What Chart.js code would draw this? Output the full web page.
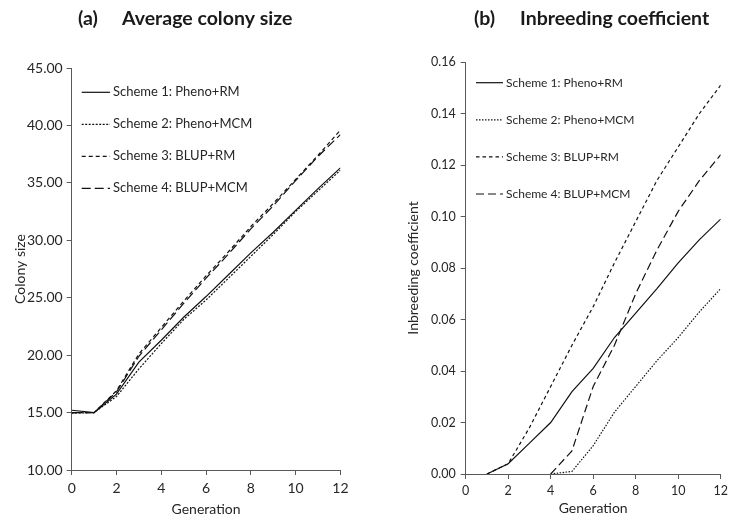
<!DOCTYPE html>
<html>
<head>
<meta charset="utf-8">
<script src="https://cdn.jsdelivr.net/npm/chart.js@4.4.1/dist/chart.umd.min.js"></script>
<style>
  html, body { margin: 0; padding: 0; background: #fff; }
  #wrap { position: relative; width: 735px; height: 520px; }
  .panel { position: absolute; top: 0; height: 520px; }
</style>
</head>
<body>
<div id="wrap">
  <div class="panel" style="left:0;width:368px"><canvas id="colony" width="368" height="520"></canvas></div>
  <div class="panel" style="left:368px;width:367px"><canvas id="inbreeding" width="367" height="520"></canvas></div>
</div>
<script>
// generations on the x axis
const generations = [0, 1, 2, 3, 4, 5, 6, 7, 8, 9, 10, 11, 12];
const schemeNames = ['Scheme 1: Pheno+RM', 'Scheme 2: Pheno+MCM', 'Scheme 3: BLUP+RM', 'Scheme 4: BLUP+MCM'];

// (a) average colony size
const colony1 = [15.2, 15.0, 16.6, 19.4, 21.3, 23.3, 25.1, 27.0, 28.9, 30.7, 32.6, 34.5, 36.3];
const colony2 = [14.95, 15.0, 16.4, 18.8, 21.0, 23.1, 24.8, 26.7, 28.6, 30.5, 32.5, 34.3, 36.1];
const colony3 = [15.0, 15.0, 16.9, 20.1, 22.4, 24.7, 26.9, 29.0, 31.2, 33.2, 35.3, 37.4, 39.6];
const colony4 = [15.0, 15.0, 16.8, 19.9, 22.2, 24.5, 26.7, 28.8, 31.0, 33.0, 35.2, 37.3, 39.2];

// (b) inbreeding coefficient
const inbreed1 = [null, 0, 0.004, 0.012, 0.020, 0.032, 0.041, 0.053, 0.0625, 0.072, 0.082, 0.091, 0.099];
const inbreed2 = [null, null, null, null, 0, 0.001, 0.011, 0.024, 0.034, 0.044, 0.053, 0.063, 0.072];
const inbreed3 = [null, 0, 0.004, 0.018, 0.034, 0.050, 0.065, 0.082, 0.098, 0.114, 0.127, 0.140, 0.151];
const inbreed4 = [null, null, null, null, 0, 0.009, 0.034, 0.050, 0.070, 0.087, 0.102, 0.114, 0.124];

Chart.defaults.font.family = 'Lato';
Chart.defaults.color = '#262626';

const axisColor = '#595959';

function points(values) {
  return generations.map((g, i) => ({ x: g, y: values[i] }));
}

function makeSets(series, dashes) {
  return series.map((s, i) => ({
    label: schemeNames[i],
    data: points(s),
    borderColor: '#111',
    borderWidth: 1.2,
    borderDash: dashes[i],
    pointRadius: 0,
    fill: false,
    tension: 0
  }));
}

// draws the panel heading and the in-plot legend
const panelText = {
  id: 'panelText',
  afterDraw(chart, args, opts) {
    const ctx = chart.ctx;
    ctx.save();
    ctx.fillStyle = '#1a1a1a';
    ctx.textBaseline = 'middle';
    ctx.font = 'bold ' + opts.titleSize + 'px Lato';
    ctx.fillText(opts.tag, opts.tagX, opts.titleY);
    ctx.fillText(opts.title, opts.titleX, opts.titleY);

    chart.data.datasets.forEach((ds, i) => {
      const y = opts.legendY + i * opts.legendGap;
      ctx.strokeStyle = ds.borderColor;
      ctx.lineWidth = ds.borderWidth;
      ctx.setLineDash(ds.borderDash || []);
      ctx.beginPath();
      ctx.moveTo(opts.lineX1, y);
      ctx.lineTo(opts.lineX2, y);
      ctx.stroke();
      ctx.setLineDash([]);
      ctx.font = opts.legendSize + 'px Lato';
      ctx.fillStyle = '#262626';
      ctx.fillText(ds.label, opts.lineX2 + 3, y);
    });
    ctx.restore();
  }
};

function axes(o) {
  return {
    x: {
      type: 'linear',
      min: 0, max: 12,
      afterFit(scale) { scale.height = o.xHeight; },
      ticks: { stepSize: 2, padding: o.xPad, font: { size: o.tickSize }, color: '#262626' },
      grid: { drawOnChartArea: false, drawTicks: true, tickLength: 5, color: axisColor },
      border: { display: true, color: axisColor, width: 1 },
      title: { display: true, text: 'Generation', font: { size: 14 }, padding: { top: 0, bottom: o.xTitlePad }, color: '#262626' }
    },
    y: {
      min: o.yMin, max: o.yMax,
      afterFit(scale) { scale.width = o.yWidth; },
      ticks: { stepSize: o.yStep, padding: o.yPad, font: { size: o.tickSize }, color: '#262626',
        callback: v => Number(v).toFixed(2) },
      grid: { drawOnChartArea: false, drawTicks: true, tickLength: 5, color: axisColor },
      border: { display: true, color: axisColor, width: 1 },
      title: { display: true, text: o.yTitle, font: { size: 14 }, padding: { top: o.yTitlePad, bottom: 0 }, color: '#262626' }
    }
  };
}

new Chart(document.getElementById('colony'), {
  type: 'line',
  data: { datasets: makeSets([colony1, colony2, colony3, colony4], [[], [2, 1.5], [4, 3], [9, 4]]) },
  options: {
    responsive: false,
    animation: false,
    layout: { padding: { top: 68, right: 27.6, bottom: 0, left: 0 } },
    scales: axes({ xHeight: 50, xPad: 5, tickSize: 14, xTitlePad: 2.6, yMin: 10, yMax: 45, yStep: 5,
      yWidth: 71.7, yPad: 4, yTitle: 'Colony size', yTitlePad: 11.6 }),
    plugins: {
      legend: { display: false },
      tooltip: { enabled: false },
      panelText: { tag: '(a)', tagX: 78, title: 'Average colony size', titleX: 122, titleY: 19, titleSize: 19.5,
        legendY: 92.3, legendGap: 32, lineX1: 81.7, lineX2: 110, legendSize: 13 }
    }
  },
  plugins: [panelText]
});

new Chart(document.getElementById('inbreeding'), {
  type: 'line',
  data: { datasets: makeSets([inbreed1, inbreed2, inbreed3, inbreed4], [[], [1.5, 1.5], [3.5, 3], [8, 4]]) },
  options: {
    responsive: false,
    animation: false,
    layout: { padding: { top: 62, right: 14.3, bottom: 0, left: 0 } },
    scales: axes({ xHeight: 46, xPad: 4, tickSize: 12.5, xTitlePad: 2.9, yMin: 0, yMax: 0.16, yStep: 0.02,
      yWidth: 97.7, yPad: 5, yTitle: 'Inbreeding coefficient', yTitlePad: 36.6 }),
    plugins: {
      legend: { display: false },
      tooltip: { enabled: false },
      panelText: { tag: '(b)', tagX: 106, title: 'Inbreeding coefficient', titleX: 152, titleY: 19, titleSize: 19.5,
        legendY: 82.7, legendGap: 37.1, lineX1: 108, lineX2: 135, legendSize: 12 }
    }
  },
  plugins: [panelText]
});
</script>
</body>
</html>
